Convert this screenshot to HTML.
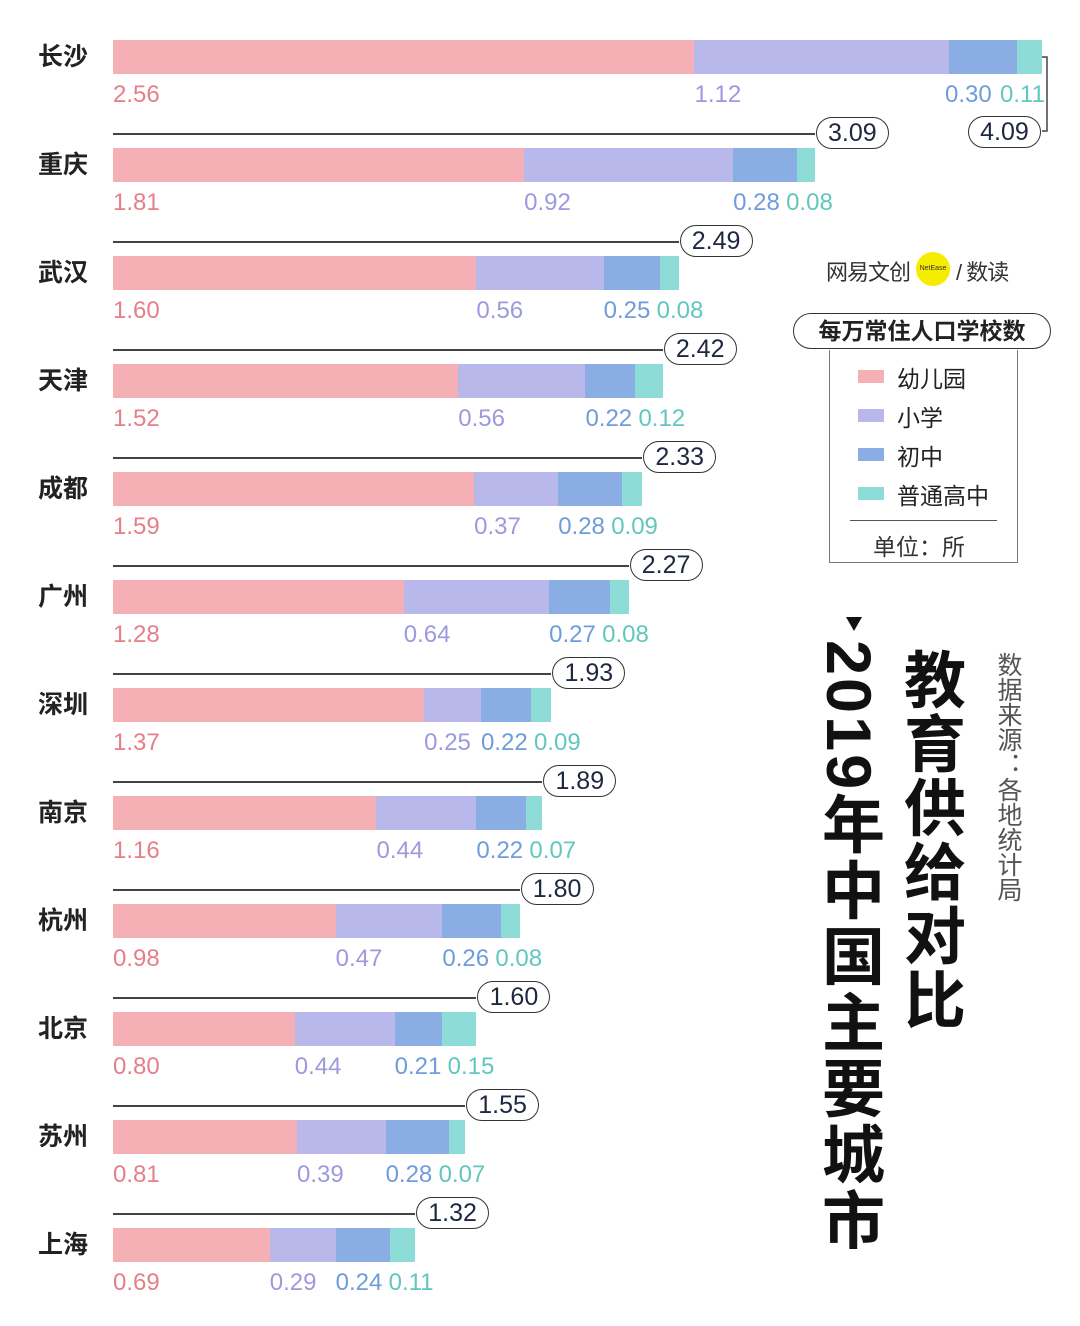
<!DOCTYPE html>
<html><head><meta charset="utf-8">
<style>
body{margin:0;background:#fff;}
#wrap{position:relative;width:1080px;height:1326px;overflow:hidden;font-family:"Liberation Sans","Noto Sans CJK SC",sans-serif;}
.city{position:absolute;left:38px;font-size:25px;font-weight:bold;color:#222;line-height:34px;}
.val{position:absolute;font-size:24px;font-weight:300;line-height:30px;white-space:nowrap;}
.pill{position:absolute;height:30px;border:1.5px solid #333;border-radius:16px;font-size:25px;color:#1d2740;line-height:30px;text-align:center;background:#fff;box-sizing:content-box;}
.line{position:absolute;height:1.5px;background:#444;left:113px;}
.seg{position:absolute;height:34px;}
.leg{position:absolute;font-size:23px;color:#222;}
.sw{position:absolute;width:26px;height:13px;}
</style></head><body>
<div id="wrap">
<div class="pill" style="left:793px;top:313px;width:256px;height:34px;line-height:34px;border-radius:18px;font-weight:bold;font-size:23px;color:#222;">每万常住人口学校数</div>
<div style="position:absolute;left:829px;top:350px;width:187px;height:212px;border:1.5px solid #777;border-top:none;"></div>
<div class="sw" style="left:858px;top:370px;background:#f4b0b4"></div>
<div class="leg" style="left:897px;top:360px;">幼儿园</div>
<div class="sw" style="left:858px;top:409px;background:#b9b8ea"></div>
<div class="leg" style="left:897px;top:399px;">小学</div>
<div class="sw" style="left:858px;top:448px;background:#8aaee3"></div>
<div class="leg" style="left:897px;top:438px;">初中</div>
<div class="sw" style="left:858px;top:487px;background:#8ddcd8"></div>
<div class="leg" style="left:897px;top:477px;">普通高中</div>
<div style="position:absolute;left:850px;top:520px;width:147px;height:1px;background:#555"></div>
<div class="leg" style="left:873px;top:528px;color:#333">单位：所</div>
<div style="position:absolute;left:826px;top:255px;font-size:22px;color:#333;letter-spacing:-1px;">网易文创</div>
<div style="position:absolute;left:916px;top:252px;width:34px;height:34px;border-radius:17px;background:#f5ec00;font-size:7px;line-height:34px;text-align:center;color:#333;">NetEase</div>
<div style="position:absolute;left:956px;top:255px;font-size:22px;color:#333;letter-spacing:-1px;">/ 数读</div>
<div style="position:absolute;left:846px;top:617px;width:0;height:0;border-left:8px solid transparent;border-right:8px solid transparent;border-top:14px solid #111;"></div>
<div style="position:absolute;left:891px;top:648px;writing-mode:vertical-rl;font-size:62px;font-weight:bold;color:#111;line-height:74px;letter-spacing:2px;">教育供给对比</div>
<div style="position:absolute;left:811px;top:640px;writing-mode:vertical-rl;font-size:63px;font-weight:bold;color:#111;line-height:74px;letter-spacing:3px;">2019年中国主要城市</div>
<div style="position:absolute;left:993px;top:652px;writing-mode:vertical-rl;font-size:25px;color:#555;line-height:30px;">数据来源：各地统计局</div>
<svg id="bracket" width="1080" height="1326" style="position:absolute;left:0;top:0;pointer-events:none"></svg>
</div>
<script>
const cities=["长沙","重庆","武汉","天津","成都","广州","深圳","南京","杭州","北京","苏州","上海"];
const kinder=[2.56,1.81,1.60,1.52,1.59,1.28,1.37,1.16,0.98,0.80,0.81,0.69];
const primary=[1.12,0.92,0.56,0.56,0.37,0.64,0.25,0.44,0.47,0.44,0.39,0.29];
const junior=[0.30,0.28,0.25,0.22,0.28,0.27,0.22,0.22,0.26,0.21,0.28,0.24];
const senior=[0.11,0.08,0.08,0.12,0.09,0.08,0.09,0.07,0.08,0.15,0.07,0.11];
const totals=["4.09","3.09","2.49","2.42","2.33","2.27","1.93","1.89","1.80","1.60","1.55","1.32"];
const x0=113, scale=929/4.09, rowTop=40, pitch=108;
const xs=v=>x0+v*scale;
const fills=["#f4b0b4","#b9b8ea","#8aaee3","#8ddcd8"];
const txt=["#e57f8a","#9d99de","#6f9cdb","#62c7bf"];
const segNames=["kindergarten","primary","junior","senior"];
const wrap=document.getElementById('wrap');
cities.forEach((c,i)=>{
  const y=rowTop+i*pitch;
  const vals=[kinder[i],primary[i],junior[i],senior[i]];
  const nm=document.createElement('div');nm.className='city';nm.style.top=y+'px';nm.textContent=c;
  
  
  wrap.appendChild(nm);
  let cum=0,prevEnd=-100;const starts=[];
  vals.forEach((v,k)=>{
    const s=document.createElement('div');s.className='seg';
    s.style.left=xs(cum)+'px';s.style.width=(v*scale)+'px';s.style.top=y+'px';s.style.background=fills[k];
    
    
    wrap.appendChild(s);
    starts.push(xs(cum));cum+=v;
  });
  const barEnd=xs(cum);
  const labels=[];
  vals.forEach((v,k)=>{
    const l=document.createElement('div');l.className='val';l.style.top=(y+40)+'px';l.style.color=txt[k];l.textContent=v.toFixed(2);
    
    
    wrap.appendChild(l);labels.push(l);
  });
  labels.forEach((l,k)=>{
    const w=l.offsetWidth;
    let lx=starts[k];
    if(k===3&&lx+w>barEnd+3)lx=barEnd+3-w;
    if(lx<prevEnd+6)lx=prevEnd+6;
    if(k===2&&i===0)lx=Math.min(lx,barEnd+3-labels[3].offsetWidth-8-w);
    l.style.left=lx+'px';prevEnd=lx+w;
  });
  const p=document.createElement('div');p.className='pill';p.textContent=totals[i];
  
  
  if(i===0){
    p.style.left=(barEnd-74)+'px';p.style.top=(y+76)+'px';p.style.width='71px';
    wrap.appendChild(p);
    document.getElementById('bracket').innerHTML='<path d="M'+(barEnd)+' '+(y+17)+' H'+(barEnd+5)+' V'+(y+91)+' H'+(barEnd)+'" fill="none" stroke="#444" stroke-width="1.5"/>';
  } else {
    const ln=document.createElement('div');ln.className='line';ln.style.top=(y-15)+'px';ln.style.width=(barEnd-x0)+'px';
    
    
    wrap.appendChild(ln);
    p.style.left=(barEnd+1)+'px';p.style.top=(y-31)+'px';p.style.width='71px';
    wrap.appendChild(p);
  }
});
</script>
</body></html>
